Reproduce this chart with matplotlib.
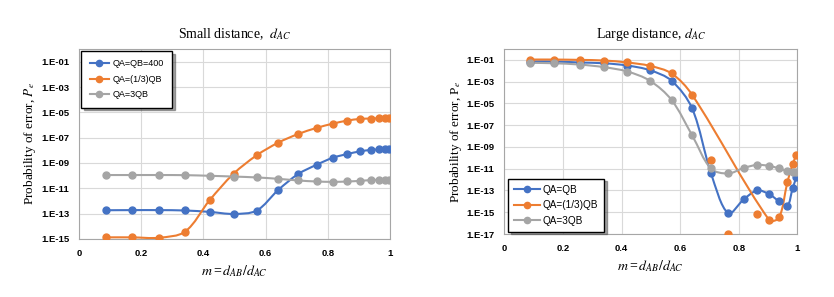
import matplotlib
matplotlib.use("Agg")
import matplotlib.pyplot as plt
from matplotlib.path import Path
from matplotlib.patches import PathPatch
from matplotlib.lines import Line2D
from matplotlib.ticker import FixedLocator, FuncFormatter
import numpy as np

plt.rcParams['font.family'] = ['Liberation Serif', 'DejaVu Serif']
plt.rcParams['mathtext.fontset'] = 'stix'

# m = d_AB / d_AC
m = [0.086, 0.171, 0.257, 0.341, 0.420, 0.497, 0.571, 0.641, 0.705, 0.764,
     0.817, 0.863, 0.904, 0.938, 0.966, 0.984, 0.997]

# Small distance d_AC  (log10 of Pe)
small_eq = [-12.73, -12.72, -12.72, -12.75, -12.86, -13.02, -12.76, -11.12, -9.87,
            -9.14, -8.58, -8.29, -8.08, -7.97, -7.93, -7.93, -7.93]
small_third = [-14.87, -14.87, -14.90, -14.42, -11.94, -9.85, -8.40, -7.39, -6.71,
               -6.23, -5.89, -5.65, -5.52, -5.49, -5.47, -5.47, -5.47]
small_three = [-9.95, -9.95, -9.95, -9.96, -10.01, -10.07, -10.14, -10.25, -10.38,
               -10.46, -10.49, -10.46, -10.41, -10.35, -10.33, -10.33, -10.33]

# Large distance d_AC  (log10 of Pe)
large_eq = [-1.15, -1.15, -1.24, -1.31, -1.52, -1.95, -2.92, -5.46, -11.38,
            -15.10, -13.82, -13.00, -13.34, -14.00, -14.43, -12.81, -11.78]
large_third = [-0.97, -0.97, -1.00, -1.06, -1.24, -1.55, -2.25, -4.21, -10.22,
               -17.00, None, -15.14, -15.72, -15.47, -12.26, -10.59, -9.74]
large_three = [-1.27, -1.31, -1.43, -1.67, -2.07, -2.92, -4.69, -7.93, -10.98,
               -11.44, -10.93, -10.65, -10.74, -10.98, -11.20, -11.26, -11.26]
# points of the orange large-distance series that the smoothed line runs through
large_third_line = [0, 1, 2, 3, 4, 5, 6, 7, 12, 13, 14, 15, 16]

c_blue = '#4472C4'
c_orange = '#ED7D31'
c_gray = '#A5A5A5'


def smooth_path(xs, ls, sy):
    # smoothed line as cubic bezier, control points in (x, log y),
    # tangents scaled by the neighbouring segment lengths (on screen)
    pts = np.column_stack([xs, ls])
    scr = pts * np.array([300.0, sy])
    n = len(pts)
    verts = [pts[0]]
    codes = [Path.MOVETO]
    for i in range(n - 1):
        a = max(i - 1, 0)
        d = min(i + 2, n - 1)
        d01 = np.hypot(*(scr[i] - scr[a]))
        d12 = np.hypot(*(scr[i + 1] - scr[i]))
        d23 = np.hypot(*(scr[d] - scr[i + 1]))
        c1 = pts[i] + (pts[i + 1] - pts[a]) * d12 / (d01 + d12) / 3
        c2 = pts[i + 1] - (pts[d] - pts[i]) * d12 / (d12 + d23) / 3
        verts += [c1, c2, pts[i + 1]]
        codes += [Path.CURVE4] * 3
    verts = np.array(verts)
    verts[:, 1] = 10.0 ** verts[:, 1]
    return Path(verts, codes)


def draw(ax, ls, color, label, sy, line_idx=None):
    idx = line_idx if line_idx is not None else [i for i, v in enumerate(ls) if v is not None]
    xs = [m[i] for i in idx]
    ys = [ls[i] for i in idx]
    ax.add_patch(PathPatch(smooth_path(xs, ys, sy), fill=False, edgecolor=color, lw=1.5, zorder=3))
    mx = [m[i] for i, v in enumerate(ls) if v is not None]
    my = [10.0 ** v for v in ls if v is not None]
    ax.plot(mx, my, 'o', color=color, ms=5, zorder=4)
    return Line2D([], [], color=color, lw=1.5, marker='o', ms=4.5, label=label)


def style(ax, ymin_exp):
    ax.set_yscale('log')
    ax.set_xlim(0, 1)
    ax.set_ylim(10.0 ** ymin_exp, 1)
    ax.yaxis.set_major_locator(FixedLocator([10.0 ** e for e in range(ymin_exp, 0, 2)]))
    ax.yaxis.set_minor_locator(FixedLocator([]))
    ax.yaxis.set_major_formatter(FuncFormatter(lambda v, p: '1.E-%02d' % round(-np.log10(v))))
    ax.set_xticks([0, 0.2, 0.4, 0.6, 0.8, 1.0])
    ax.set_xticklabels(['0', '0.2', '0.4', '0.6', '0.8', '1'])
    ax.grid(True, color='#D9D9D9', lw=0.8)
    ax.set_axisbelow(True)
    for s in ax.spines.values():
        s.set_color('#A6A6A6')
        s.set_linewidth(0.8)
    ax.tick_params(length=0, labelsize=6.8, pad=7)
    for t in ax.get_xticklabels() + ax.get_yticklabels():
        t.set_family('Liberation Sans')
        t.set_fontweight('bold')
    ax.set_xlabel('$m\\mathregular{=}d_{AB}/d_{AC}$', fontsize=10, labelpad=4)


def legend(ax, handles, anchor, loc, size, spacing, pad, hlen):
    lg = ax.legend(handles=handles, loc=loc, bbox_to_anchor=anchor,
                   bbox_transform=fig.transFigure, borderaxespad=0,
                   prop={'family': 'Liberation Sans', 'size': size},
                   handlelength=hlen, handletextpad=0.3, labelspacing=spacing,
                   borderpad=pad, fancybox=False, shadow=True, framealpha=1)
    lg.get_frame().set_edgecolor('black')
    lg.get_frame().set_linewidth(1.0)
    lg.set_zorder(10)


fig = plt.figure(figsize=(8.34, 2.97), dpi=100)
ax1 = fig.add_axes([0.0947, 0.1953, 0.3729, 0.6397])
ax2 = fig.add_axes([0.6047, 0.2121, 0.3513, 0.6229])

h1 = [draw(ax1, small_eq, c_blue, 'QA=QB=400', 12.6),
      draw(ax1, small_third, c_orange, 'QA=(1/3)QB', 12.6),
      draw(ax1, small_three, c_gray, 'QA=3QB', 12.6)]
style(ax1, -15)
ax1.set_title('Small distance,  $d_{AC}$', fontsize=10, pad=8)
ax1.set_ylabel('Probability of error, $P_e$', fontsize=9.5, labelpad=2)
legend(ax1, h1, (0.0971, 0.829), 'upper left', 6.5, 0.7, 0.95, 2.2)

h2 = [draw(ax2, large_eq, c_blue, 'QA=QB', 10.9),
      draw(ax2, large_third, c_orange, 'QA=(1/3)QB', 10.9, large_third_line),
      draw(ax2, large_three, c_gray, 'QA=3QB', 10.9)]
style(ax2, -17)
ax2.set_title('Large distance, $d_{AC}$', fontsize=10, pad=8)
ax2.set_ylabel('Probability of error, P$_e$', fontsize=9.5, labelpad=2)
legend(ax2, h2, (0.6088, 0.22), 'lower left', 7.2, 0.55, 0.6, 2.6)

fig.savefig('out.png', dpi=100)
